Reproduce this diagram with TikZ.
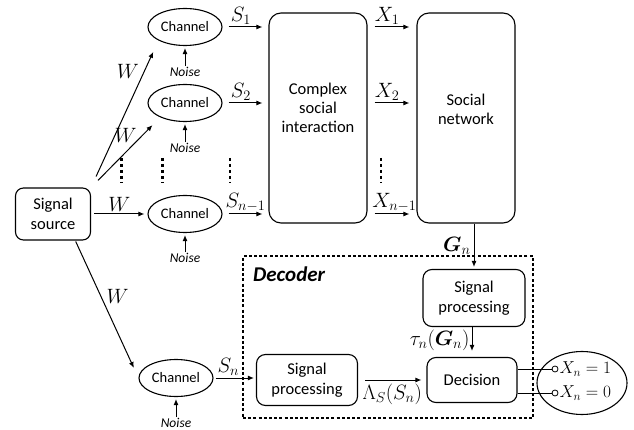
\documentclass[tikz,border=0pt]{standalone}
\usepackage[no-math]{fontspec}
\setmainfont{Carlito}
\usepackage{amsmath,bm}
\usetikzlibrary{shapes.geometric,arrows.meta,calc}
\begin{document}
\begin{tikzpicture}[x=1pt,y=-1pt,
  txt/.style={font=\fontsize{16.5}{19}\selectfont, align=center, inner sep=0pt},
  box/.style={draw, rounded corners=10pt, line width=1.1pt, align=center, inner sep=0pt, font=\fontsize{16.5}{19.5}\selectfont},
  chan/.style={draw, ellipse, line width=1.1pt, minimum width=74pt, minimum height=37pt, inner sep=0pt, font=\fontsize{14.5}{16}\selectfont},
  arr/.style={-{Latex[length=6pt,width=5pt]}, line width=1pt},
  noise/.style={font=\fontsize{13.5}{14}\selectfont\itshape, inner sep=1pt},
  lab/.style={font=\fontsize{20}{21}\selectfont, inner sep=2pt},
  vdots/.style={line width=2.8pt, dash pattern=on 2.8pt off 3.2pt}
]
\useasboundingbox (0,0) rectangle (634,430);

% source and channels
\node[box, rounded corners=8pt, minimum width=75pt, minimum height=52pt] (src) at (53,214) {Signal\\source};
\node[chan] (ch1) at (185,27) {Channel};
\node[chan] (ch2) at (185,103) {Channel};
\node[chan] (ch3) at (185,214) {Channel};
\node[chan] (chn) at (176,378) {Channel};

\node[noise] (n1) at (185,72) {Noise};
\node[noise] (n2) at (185,148) {Noise};
\node[noise] (n3) at (185,258) {Noise};
\node[noise] (nn) at (176,423) {Noise};
\draw[arr, shorten >=2pt] (n1.north) -- (ch1.south);
\draw[arr, shorten >=2pt] (n2.north) -- (ch2.south);
\draw[arr, shorten >=2pt] (n3.north) -- (ch3.south);
\draw[arr, shorten >=2pt] (nn.north) -- (chn.south);

% big boxes
\node[box, rounded corners=12pt, minimum width=98pt, minimum height=210pt] (csi) at (318,118) {};
\node[txt] (csit) at (318,108) {Complex\\social\\interaction};
\node[box, rounded corners=12pt, minimum width=98pt, minimum height=210pt] (sn) at (466,118) {};
\node[txt] (snt) at (466,109) {Social\\network};

% W arrows
\draw[arr, shorten <=12pt, shorten >=12.5pt] (src.north east) -- (ch1.south west) node[lab, pos=0.79, left=3pt] {$W$};
\draw[arr, shorten <=10pt, shorten >=11pt] (src.north east) -- (ch2.210) node[lab, pos=0.74, left=3pt] {$W$};
\draw[arr, shorten <=3pt, shorten >=3pt] (src.east) -- (ch3.west) node[lab, midway, above] {$W$};
\draw[arr, shorten <=1pt, shorten >=11pt] (src.-50) -- (chn.west) node[lab, pos=0.41, right=3pt] {$W$};

% S arrows
\draw[arr, shorten <=6pt, shorten >=6pt] (ch1.east) -- (ch1.east -| csi.west) node[lab, pos=0.4, above] {$S_1$};
\draw[arr, shorten <=6pt, shorten >=6pt] (ch2.east) -- (ch2.east -| csi.west) node[lab, pos=0.4, above] {$S_2$};
\draw[arr, shorten <=6pt, shorten >=6pt] (ch3.east) -- (ch3.east -| csi.west) node[lab, pos=0.5, above] {$S_{n-1}$};

% X arrows
\draw[arr, shorten <=7pt, shorten >=7pt] (ch1.east -| csi.east) -- (ch1.east -| sn.west) node[lab, pos=0.4, above] {$X_1$};
\draw[arr, shorten <=7pt, shorten >=7pt] (ch2.east -| csi.east) -- (ch2.east -| sn.west) node[lab, pos=0.4, above] {$X_2$};
\draw[arr, shorten <=7pt, shorten >=7pt] (ch3.east -| csi.east) -- (ch3.east -| sn.west) node[lab, pos=0.55, above] {$X_{n-1}$};

% vertical dots
\draw[vdots] (121.5,158) -- (121.5,183);
\draw[vdots] (162.5,158) -- (162.5,183);
\draw[vdots] (230,158) -- (230,183);
\draw[vdots] (381,158) -- (381,183);

% decoder
\node[draw, line width=1.1pt, dash pattern=on 3pt off 2.2pt, minimum width=290pt, minimum height=162pt, inner sep=0pt] (decbox) at (388,337) {};
\node[font=\fontsize{21}{22}\selectfont\bfseries\itshape, anchor=west, inner sep=0pt] (dectitle) at (253,274) {Decoder};

\node[box, rounded corners=9pt, minimum width=102pt, minimum height=57pt] (sp1) at (474,298) {Signal\\processing};
\node[box, rounded corners=9pt, minimum width=90pt, minimum height=45pt] (dec) at (472,380) {Decision};
\node[box, rounded corners=9pt, minimum width=101pt, minimum height=51pt] (sp2) at (307,380) {Signal\\processing};

\draw[arr, shorten >=2pt] (sn.south -| sp1.north) -- (sp1.north) node[lab, midway, left=1pt] {$\bm{G}_n$};
\draw[arr, shorten >=6pt] (sp1.south -| dec.north) -- (dec.north) node[lab, pos=0.45, left=0pt] {$\tau_n(\bm{G}_n)$};
\draw[arr, shorten <=2pt, shorten >=2pt] (chn.east) -- (chn.east -| sp2.west) node[lab, pos=0.35, above] {$S_n$};
\draw[arr, shorten <=7pt, shorten >=5pt] (sp2.east) -- (sp2.east -| dec.west) node[lab, midway, below=1pt] {$\Lambda_S(S_n)$};

% output
\node[draw, ellipse, line width=1.1pt, minimum width=90pt, minimum height=63pt, inner sep=0pt] (out) at (582,383) {};
\node[draw, circle, line width=0.8pt, minimum size=6pt, inner sep=0pt, fill=white] (o1) at (555,369) {};
\node[draw, circle, line width=0.8pt, minimum size=6pt, inner sep=0pt, fill=white] (o0) at (555,393) {};
\draw[line width=1pt] (dec.east |- o1) -- (o1.west);
\draw[line width=1pt] (dec.east |- o0) -- (o0.west);
\node[font=\fontsize{18}{19}\selectfont, anchor=west, inner sep=1pt] (l1) at (o1.east) {$X_n=1$};
\node[font=\fontsize{18}{19}\selectfont, anchor=west, inner sep=1pt] (l0) at (o0.east) {$X_n=0$};
\end{tikzpicture}
\end{document}
